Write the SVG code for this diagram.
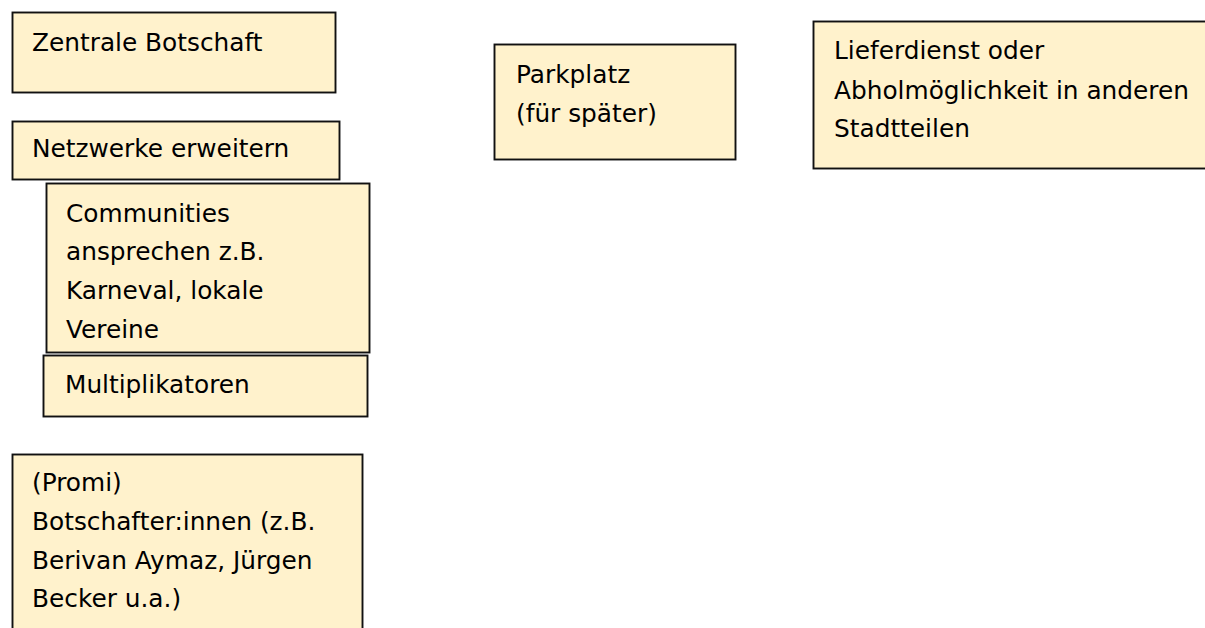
<svg xmlns="http://www.w3.org/2000/svg" width="1205" height="628" viewBox="0 0 1205 628">
<style>
.box{fill:#FFF2CC;stroke:#111;stroke-width:1.9}
.t{font-family:"DejaVu Sans",sans-serif;font-size:24.8px;fill:#000}
</style>
<rect width="1205" height="628" fill="#fff"/>
<g id="zentrale">
<rect class="box" x="12.5" y="12.5" width="323" height="80"/>
<text class="t" x="32" y="51">Zentrale Botschaft</text>
</g>
<g id="netzwerke">
<rect class="box" x="12.5" y="121.5" width="327" height="58"/>
<text class="t" x="32" y="157">Netzwerke erweitern</text>
</g>
<g id="communities">
<rect class="box" x="46.5" y="183.5" width="323" height="169"/>
<text class="t" x="66" y="221.5">Communities</text>
<text class="t" x="66" y="260">ansprechen z.B.</text>
<text class="t" x="66" y="298.5">Karneval, lokale</text>
<text class="t" x="66" y="337.5">Vereine</text>
</g>
<g id="multiplikatoren">
<rect class="box" x="43.5" y="355.5" width="324" height="61"/>
<text class="t" x="65" y="392.5">Multiplikatoren</text>
</g>
<g id="promi">
<rect class="box" x="12.5" y="454.5" width="350" height="190"/>
<text class="t" x="32" y="491">(Promi)</text>
<text class="t" x="32" y="530">Botschafter:innen (z.B.</text>
<text class="t" x="32" y="568.5">Berivan Aymaz, Jürgen</text>
<text class="t" x="32" y="607">Becker u.a.)</text>
</g>
<g id="parkplatz">
<rect class="box" x="494.5" y="44.5" width="241" height="115"/>
<text class="t" x="516" y="83">Parkplatz</text>
<text class="t" x="516" y="121.5">(für später)</text>
</g>
<g id="lieferdienst">
<rect class="box" x="813.5" y="21.5" width="420" height="147"/>
<text class="t" x="834" y="59">Lieferdienst oder</text>
<text class="t" x="834" y="98.5">Abholmöglichkeit in anderen</text>
<text class="t" x="834" y="137">Stadtteilen</text>
</g>
<g id="connectors"/>
</svg>
